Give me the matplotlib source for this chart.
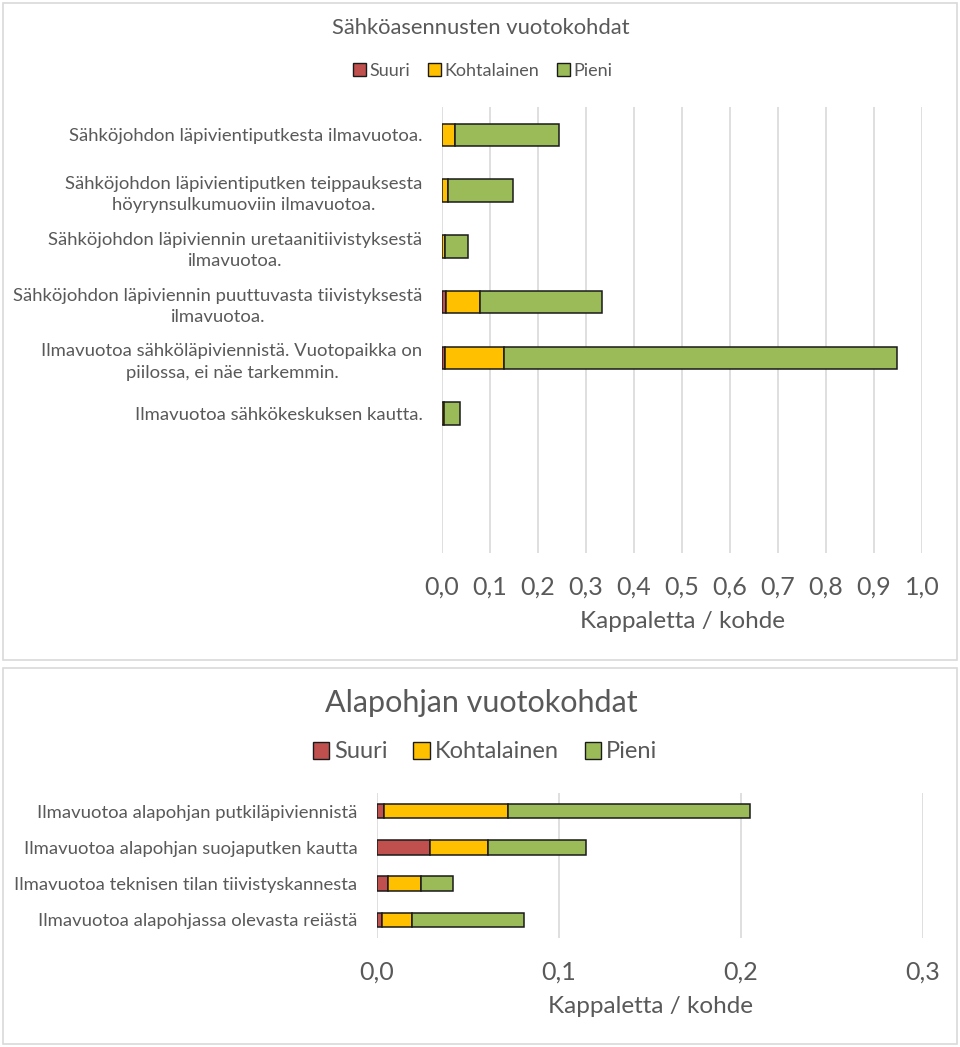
import matplotlib.pyplot as plt
from matplotlib.patches import Patch, Rectangle

plt.rcParams['font.family'] = ['Lato', 'DejaVu Sans']

# top chart: electrical installations
cats_top = ["Sähköjohdon läpivientiputkesta ilmavuotoa.",
            "Sähköjohdon läpivientiputken teippauksesta\nhöyrynsulkumuoviin ilmavuotoa.",
            "Sähköjohdon läpiviennin uretaanitiivistyksestä\nilmavuotoa.",
            "Sähköjohdon läpiviennin puuttuvasta tiivistyksestä\nilmavuotoa.",
            "Ilmavuotoa sähköläpiviennistä. Vuotopaikka on\npiilossa, ei näe tarkemmin.",
            "Ilmavuotoa sähkökeskuksen kautta."]
suuri_top = [0.0, 0.0, 0.0, 0.009, 0.006, 0.001]
kohtalainen_top = [0.027, 0.012, 0.006, 0.071, 0.123, 0.003]
pieni_top = [0.217, 0.136, 0.049, 0.253, 0.818, 0.034]
ticks_top = [0.0, 0.1, 0.2, 0.3, 0.4, 0.5, 0.6, 0.7, 0.8, 0.9, 1.0]

# bottom chart: base floor
cats_bot = ["Ilmavuotoa alapohjan putkiläpiviennistä",
            "Ilmavuotoa alapohjan suojaputken kautta",
            "Ilmavuotoa teknisen tilan tiivistyskannesta",
            "Ilmavuotoa alapohjassa olevasta reiästä"]
suuri_bot = [0.004, 0.029, 0.006, 0.003]
kohtalainen_bot = [0.068, 0.032, 0.018, 0.016]
pieni_bot = [0.133, 0.054, 0.018, 0.062]
ticks_bot = [0.0, 0.1, 0.2, 0.3]

series = ["Suuri", "Kohtalainen", "Pieni"]
colors = ["#C0504D", "#FFC000", "#9BBB59"]
txt = "#595959"
grid = "#d9d9d9"

fig = plt.figure(figsize=(9.6, 10.47), dpi=100)
H = 1047.0
W = 960.0

# panel borders
for y0, y1 in [(3, 660), (668, 1044)]:
    fig.patches.append(Rectangle((3 / W, 1 - y1 / H), 954 / W, (y1 - y0) / H,
                                 transform=fig.transFigure, fill=False,
                                 edgecolor=grid, linewidth=1.2))


def draw(ax, cats, s, k, p, ticks, nslots, labsize, ticksize):
    y = list(range(len(cats)))
    left = [0] * len(cats)
    for vals, c in zip([s, k, p], colors):
        ax.barh(y, vals, left=left, height=0.4, color=c,
                edgecolor="#1a1a1a", linewidth=1.1, zorder=3)
        left = [a + b for a, b in zip(left, vals)]
    ax.set_ylim(nslots - 0.5, -0.5)
    ax.set_xlim(ticks[0], ticks[-1])
    ax.set_xticks(ticks)
    ax.set_xticklabels([f"{t:.1f}".replace(".", ",") for t in ticks])
    ax.set_yticks(y)
    ax.set_yticklabels(cats, multialignment="center", linespacing=1.4)
    ax.tick_params(axis="y", length=0, pad=14, labelsize=labsize, labelcolor=txt)
    ax.tick_params(axis="x", length=0, pad=16, labelsize=ticksize, labelcolor=txt)
    ax.grid(axis="x", color=grid, linewidth=1.2, zorder=0)
    for sp in ax.spines.values():
        sp.set_visible(False)
    ax.set_xlabel("Kappaletta / kohde", fontsize=17.5, color=txt, labelpad=9)


ax1 = fig.add_axes([442 / W, 1 - 553 / H, 480 / W, 446 / H])
draw(ax1, cats_top, suuri_top, kohtalainen_top, pieni_top, ticks_top, 8, 13.3, 18)

ax2 = fig.add_axes([377 / W, 1 - 938 / H, 546 / W, 145 / H])
draw(ax2, cats_bot, suuri_bot, kohtalainen_bot, pieni_bot, ticks_bot, 4, 13.3, 18)

handles = [Patch(facecolor=c, edgecolor="#1a1a1a", linewidth=1.0, label=n)
           for n, c in zip(series, colors)]

fig.text(0.501, 1 - 28 / H, "Sähköasennusten vuotokohdat", ha="center", va="center",
         fontsize=15.8, color=txt)
fig.legend(handles=handles, loc="center", bbox_to_anchor=(0.503, 1 - 71 / H), ncol=3,
           frameon=False, fontsize=13, labelcolor=txt, handlelength=0.7,
           handleheight=0.7, handletextpad=0.2, columnspacing=1.0)

fig.text(0.501, 1 - 703 / H, "Alapohjan vuotokohdat", ha="center", va="center",
         fontsize=22, color=txt)
fig.legend(handles=handles, loc="center", bbox_to_anchor=(0.505, 1 - 752 / H), ncol=3,
           frameon=False, fontsize=17, labelcolor=txt, handlelength=0.7,
           handleheight=0.7, handletextpad=0.2, columnspacing=1.1)

fig.savefig("out.png", dpi=100)
